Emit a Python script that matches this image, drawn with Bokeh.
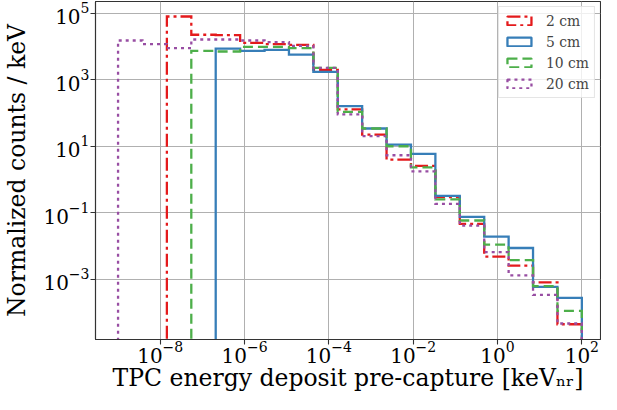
from bokeh.plotting import figure
from bokeh.models import Range1d, FixedTicker, LogTickFormatter, Legend, LegendItem
from bokeh.embed import file_html
from bokeh.resources import INLINE

# ---- data ----
# log-spaced bin edges (exponents of 10), 19 bins from 1e-9 to 1e2
edge_exponents = [-9.0, -8.421, -7.842, -7.263, -6.684, -6.105, -5.526, -4.947,
                  -4.368, -3.789, -3.211, -2.632, -2.053, -1.474, -0.895, -0.316,
                  0.263, 0.842, 1.421, 2.0]

labels = ["2 cm", "5 cm", "10 cm", "20 cm"]

counts_2cm = [None, None, 7.9e4, 2.23e4, 2.18e4, 1.28e4, 1.16e4, 1.11e4, 1.96e3, 127,
              22.4, 3.95, 2.55, 0.296, 0.0464, 4.8e-3, 2.57e-3, 8.07e-4, 4.47e-5]
counts_5cm = [None, None, None, None, 8.6e3, 7.33e3, 7.85e3, 5.68e3, 1.70e3, 161,
              34, 11.2, 5.86, 0.324, 0.0755, 0.0192, 8.75e-3, 5.97e-4, 2.78e-4]
counts_10cm = [None, None, None, 7.33e3, 7.0e3, 9.68e3, 9.68e3, 8.8e3, 2.25e3, 108,
               34, 9.98, 2.32, 0.251, 0.0585, 0.0110, 3.8e-3, 6.25e-4, 1.13e-4]
counts_20cm = [1.50e4, 1.16e4, 8.8e3, 1.61e4, 1.61e4, 1.50e4, 1.34e4, 1.04e4, 2.25e3, 90,
               20, 5.34, 1.76, 0.186, 0.0413, 6.6e-3, 1.31e-3, 3.43e-4, 4.7e-5]

x_ticks = [1e-8, 1e-6, 1e-4, 1e-2, 1e0, 1e2]
y_ticks = [1e-3, 1e-1, 1e1, 1e3, 1e5]

x_label = "TPC energy deposit pre-capture [keV\u2099\u1d63]"
y_label = "Normalized counts / keV"

colors = ["#e41a1c", "#377eb8", "#4daf4a", "#984ea3"]
dashes = ["13 4 3 4", "solid", "10 5", "3 4"]

edges = [10 ** e for e in edge_exponents]
FLOOR = 1e-12


def step_path(vals):
    idx = [i for i, v in enumerate(vals) if v is not None]
    f, l = idx[0], idx[-1]
    xs = [edges[f]]
    ys = [FLOOR]
    for i in range(f, l + 1):
        v = vals[i] if vals[i] is not None else FLOOR
        xs += [edges[i], edges[i + 1]]
        ys += [v, v]
    xs.append(edges[l + 1])
    ys.append(FLOOR)
    return xs, ys


SERIF = "DejaVu Serif"

p = figure(width=601, height=394, x_axis_type="log", y_axis_type="log",
           x_range=Range1d(10 ** -9.535, 10 ** 2.442),
           y_range=Range1d(10 ** -4.808, 10 ** 5.348),
           output_backend="svg", toolbar_location=None,
           min_border_left=85, min_border_right=1, min_border_top=1, min_border_bottom=43)

p.background_fill_color = "white"
p.border_fill_color = "white"
p.outline_line_color = "#333333"
p.outline_line_width = 1.1

for ax in (p.xaxis, p.yaxis):
    ax.axis_line_color = "#333333"
    ax.axis_line_width = 1.1
    ax.major_tick_line_color = "#333333"
    ax.major_tick_line_width = 1.1
    ax.major_tick_out = 5
    ax.major_tick_in = 0
    ax.minor_tick_line_color = None
    ax.major_label_text_font = SERIF
    ax.major_label_text_font_size = "20px"
    ax.major_label_text_color = "black"
    ax.axis_label_text_font = SERIF
    ax.axis_label_text_font_size = "23.5px"
    ax.axis_label_text_font_style = "normal"
    ax.axis_label_text_color = "black"

p.xaxis.ticker = FixedTicker(ticks=x_ticks)
p.yaxis.ticker = FixedTicker(ticks=y_ticks)
p.xaxis.formatter = LogTickFormatter()
p.yaxis.formatter = LogTickFormatter()
p.xaxis.major_label_standoff = -4
p.yaxis.major_label_standoff = 1
p.xaxis.axis_label_standoff = -2
p.yaxis.axis_label_standoff = 9
p.xaxis.axis_label = x_label
p.yaxis.axis_label = y_label

p.xgrid.ticker = FixedTicker(ticks=x_ticks)
p.ygrid.ticker = FixedTicker(ticks=y_ticks)
for g in (p.xgrid, p.ygrid):
    g.grid_line_color = "#b0b0b0"
    g.grid_line_width = 1

items = []
for lab, vals, col, dash in zip(labels, [counts_2cm, counts_5cm, counts_10cm, counts_20cm],
                                colors, dashes):
    xs, ys = step_path(vals)
    p.line(xs, ys, line_color=col, line_width=2.3, line_dash=dash, line_join="miter")
    dummy = p.quad(left=[1e-30], right=[1e-29], top=[1e-30], bottom=[1e-31], fill_alpha=0,
                   line_color=col, line_width=2.3, line_dash=dash)
    items.append(LegendItem(label=lab, renderers=[dummy]))

legend = Legend(items=items, location="top_right")
legend.label_text_font = SERIF
legend.label_text_font_size = "13.9px"
legend.glyph_width = 30
legend.glyph_height = 11
legend.label_height = 17
legend.label_standoff = 12
legend.spacing = 4
legend.padding = 5
legend.margin = 5
legend.border_line_color = "#cccccc"
legend.border_line_width = 1
legend.background_fill_alpha = 0.8
p.add_layout(legend)

open("out.html", "w").write(file_html(p, INLINE))
